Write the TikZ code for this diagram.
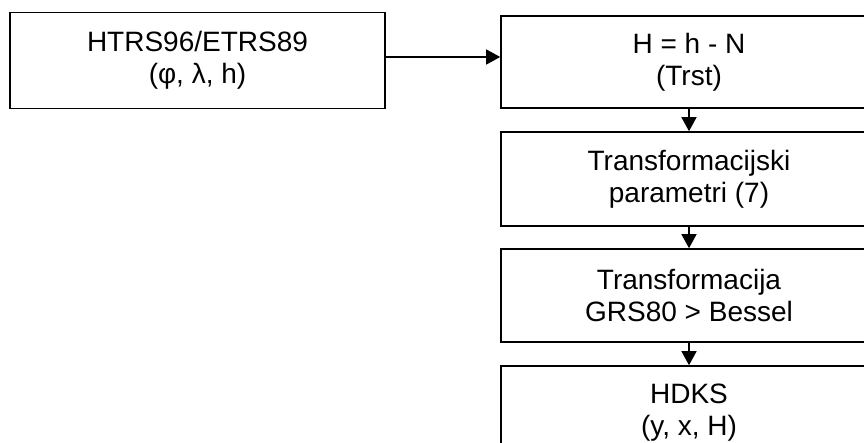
\documentclass[tikz,border=0pt]{standalone}
\usepackage{fontspec}
\setmainfont{Liberation Sans}
\usetikzlibrary{arrows.meta}
\begin{document}
\begin{tikzpicture}[x=1pt,y=-1pt,
  box/.style={draw=black, line width=1.6pt, rectangle, align=center,
    font=\fontsize{28}{32}\selectfont, inner sep=0pt},
  conn/.style={line width=1.4pt, -{Triangle[length=14pt,width=15pt]}}]
\useasboundingbox (0,0) rectangle (864,443);
\clip (0,0) rectangle (864,443);
\node[box, minimum width=375pt, minimum height=96pt] (L) at (197.5,60.4) {HTRS96/ETRS89\\(φ, λ, h)};
\node[box, minimum width=376pt, minimum height=92pt] (R1) at (689,62) {H = h - N\\(Trst)};
\node[box, minimum width=376pt, minimum height=94pt] (R2) at (689,179) {Transformacijski\\parametri (7)};
\node[box, minimum width=376pt, minimum height=93pt] (R3) at (689,295.5) {Transformacija\\GRS80 > Bessel};
\node[box, minimum width=376pt, minimum height=93pt] (R4) at (689,412.5) {HDKS\\(y, x, H)};
\coordinate (a) at (L.east |- 0,57);
\coordinate (b) at (R1.west |- 0,57);
\draw[conn] (a) -- (b);
\draw[conn] (R1.south) -- (R2.north);
\draw[conn] (R2.south) -- (R3.north);
\draw[conn] (R3.south) -- (R4.north);
\end{tikzpicture}
\end{document}
